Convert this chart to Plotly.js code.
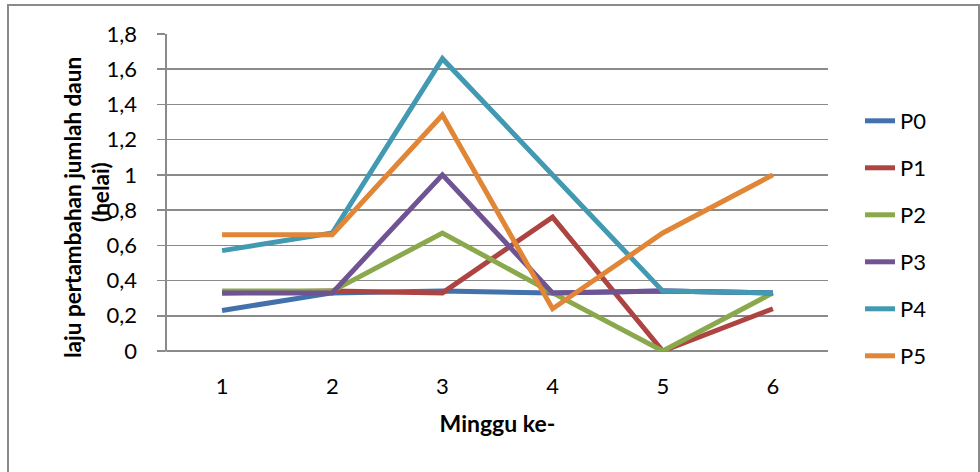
<!DOCTYPE html>
<html>
<head>
<meta charset="utf-8">
<script src="https://cdn.plot.ly/plotly-3.0.1.min.js"></script>
<style>html,body{margin:0;padding:0;background:#fff;}#chart{width:980px;height:472px;}</style>
</head>
<body>
<div id="chart"></div>
<script>
const weeks = ['1', '2', '3', '4', '5', '6'];
const seriesNames = ['P0', 'P1', 'P2', 'P3', 'P4', 'P5'];
const P0 = [0.23, 0.33, 0.34, 0.33, 0.34, 0.33];
const P1 = [0.33, 0.34, 0.33, 0.76, 0.00, 0.24];
const P2 = [0.34, 0.34, 0.67, 0.33, 0.00, 0.33];
const P3 = [0.33, 0.33, 1.00, 0.33, 0.34, 0.33];
const P4 = [0.57, 0.67, 1.66, 1.00, 0.34, 0.33];
const P5 = [0.66, 0.66, 1.34, 0.24, 0.67, 1.00];
const yTitleLine1 = 'laju pertambahan jumlah daun';
const yTitleLine2 = '(helai)';
const xTitle = 'Minggu ke-';

const colors = ['#4371AC', '#AD4441', '#8AA94D', '#6F5393', '#4299B2', '#E08636'];
const values = [P0, P1, P2, P3, P4, P5];

const FONT = 'Lato, "Open Sans", "Liberation Sans", sans-serif';
const L = 167, R = 828, T = 34, B = 351, W = 980, H = 472;
const px = x => (x - L) / (R - L);
const py = y => (B - y) / (B - T);

const traces = values.map((v, i) => ({
  type: 'scatter', mode: 'lines', x: weeks, y: v, name: seriesNames[i],
  legendgroup: 'g' + i,
  line: {color: colors[i], width: 5}
}));

const layout = {
  width: W, height: H,
  margin: {l: L, r: W - R, t: T, b: H - B, pad: 0},
  paper_bgcolor: '#fff', plot_bgcolor: '#fff',
  font: {family: FONT, size: 22, color: '#000'},
  separators: ',.',
  showlegend: true,
  legend: {
    x: px(860), xanchor: 'left', y: py(100), yanchor: 'top',
    font: {family: FONT, size: 22, color: '#000'},
    tracegroupgap: 15.4, bgcolor: 'rgba(0,0,0,0)'
  },
  xaxis: {
    type: 'category', range: [-0.5, 5.5], showgrid: false,
    showline: false, zeroline: false, ticks: '', ticklabelstandoff: 20,
    tickfont: {family: FONT, size: 22},
    title: {text: '<b>' + xTitle + '</b>', font: {family: FONT, size: 23}, standoff: 17}
  },
  yaxis: {
    range: [0, 1.8], dtick: 0.2, tick0: 0,
    showgrid: true, gridcolor: '#8a8a8a', gridwidth: 1.6,
    showline: true, linecolor: '#8a8a8a', linewidth: 1.6,
    zeroline: true, zerolinecolor: '#8a8a8a', zerolinewidth: 1.6,
    ticks: 'outside', ticklen: 8, tickcolor: '#8a8a8a', tickwidth: 1.6,
    ticklabelstandoff: 16,
    tickfont: {family: FONT, size: 22}
  },
  annotations: [{
    text: '<b>' + yTitleLine1 + '</b>', textangle: -90,
    xref: 'paper', yref: 'paper', x: px(73), y: py(208),
    xanchor: 'center', yanchor: 'middle', showarrow: false,
    font: {family: FONT, size: 22.5, color: '#000'}
  }, {
    text: '<b>' + yTitleLine2 + '</b>', textangle: -90,
    xref: 'paper', yref: 'paper', x: px(100), y: py(192),
    xanchor: 'center', yanchor: 'middle', showarrow: false,
    font: {family: FONT, size: 22.5, color: '#000'}
  }],
  shapes: [{
    type: 'rect', xref: 'paper', yref: 'paper', layer: 'below',
    x0: px(8), x1: px(979), y0: py(5), y1: py(490),
    line: {color: '#8a8a8a', width: 2}, fillcolor: 'rgba(0,0,0,0)'
  }, {
    type: 'line', xref: 'paper', yref: 'paper', layer: 'below',
    x0: px(L - 8), x1: 1, y0: 0, y1: 0,
    line: {color: '#8a8a8a', width: 1.6}
  }]
};

Plotly.newPlot('chart', traces, layout, {displayModeBar: false, staticPlot: true});
</script>
</body>
</html>
